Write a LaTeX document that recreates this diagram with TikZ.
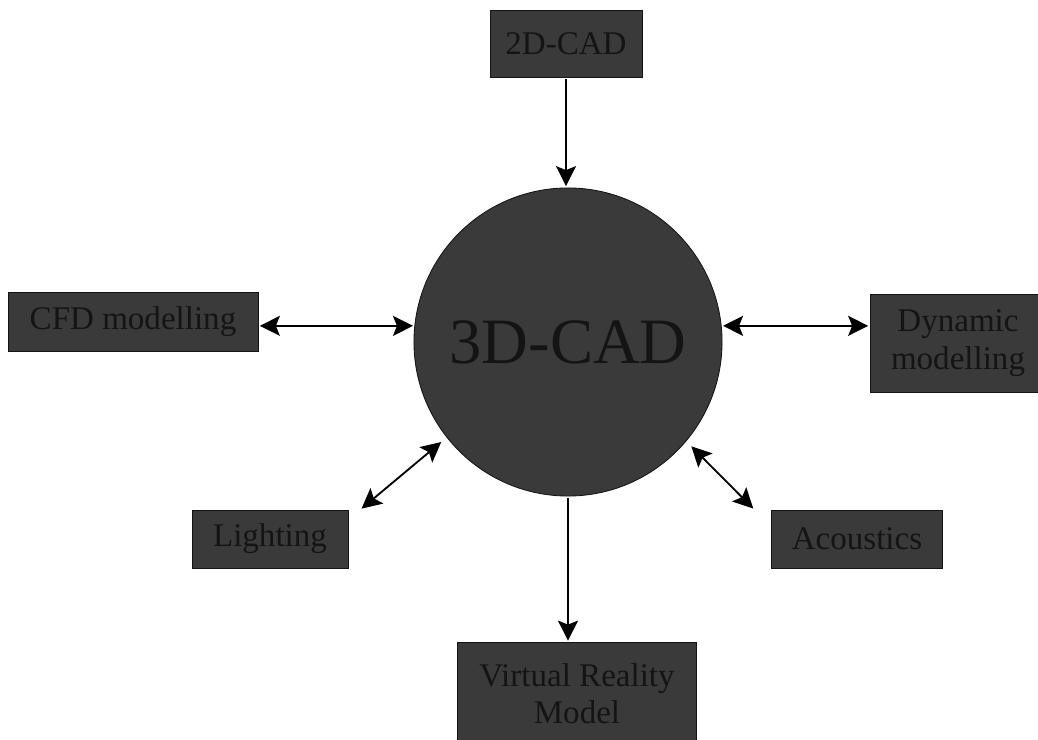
\documentclass[tikz,border=0pt]{standalone}
\usepackage{fontspec}
\setmainfont{Liberation Serif}
\usepackage{tikz}
\usetikzlibrary{arrows.meta}
\definecolor{boxgray}{RGB}{58,58,58}
\definecolor{inkgray}{RGB}{20,20,20}
\begin{document}
\begin{tikzpicture}[<->,>={Stealth[length=5mm,width=5mm,inset=1mm]},
  line width=1.3pt,x=0.025cm,y=-0.025cm,
  main node/.style={circle,fill=boxgray,draw=inkgray,line width=0.6pt,minimum size=7.7cm,
    text=inkgray,font=\fontsize{46}{50}\selectfont},
  tool node/.style={rectangle,fill=boxgray,draw=inkgray,line width=0.6pt,align=center,
    text=inkgray,font=\fontsize{23.5}{26.5}\selectfont,inner sep=0pt}]

\useasboundingbox (0,0) rectangle (1038,740);

\node[main node] (threed) at (568,342) {3D-CAD};
\node[tool node,minimum width=3.8cm,minimum height=1.675cm] (twod) at (566,44) {2D-CAD};
\node[tool node,minimum width=6.25cm,minimum height=1.475cm] (cfd) at (133,322) {CFD modelling};
\node[tool node,minimum width=4.4cm,minimum height=2.45cm] (dyn) at (958,343) {Dynamic\\modelling};
\node[tool node,minimum width=3.9cm,minimum height=1.45cm] (light) at (270,539) {Lighting};
\node[tool node,minimum width=4.275cm,minimum height=1.45cm] (acou) at (857,539) {Acoustics};
\node[tool node,minimum width=5.975cm,minimum height=2.575cm] (vr) at (577,694) {Virtual Reality\\Model};

 \path[shorten >=1pt,shorten <=1pt]

(twod) edge [->] (twod |- threed.north)
(cfd.east |- threed.174) edge (threed.174)
(threed.6) edge (dyn.west |- threed.6)
([xshift=0.3cm]light.north east) edge ([shift={(-0.1cm,-0.1cm)}]threed.218)
([shift={(0.1cm,-0.1cm)}]threed.320) edge ([xshift=-0.42cm]acou.north west)
(threed.south) edge [->] (vr.north -| threed.south);

\end{tikzpicture}
\end{document}
